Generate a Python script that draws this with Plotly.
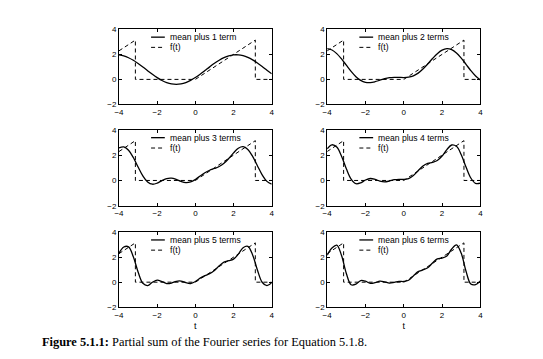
import plotly.graph_objects as go

# ---- data ----
t = [-4.0, -3.75, -3.5, -3.25, -3.0, -2.75, -2.5, -2.25, -2.0, -1.75, -1.5, -1.25, -1.0,
     -0.75, -0.5, -0.25, 0.0, 0.25, 0.5, 0.75, 1.0, 1.25, 1.5, 1.75, 2.0, 2.25, 2.5,
     2.75, 3.0, 3.25, 3.5, 3.75, 4.0]

sum1 = [1.958, 1.879, 1.732, 1.526, 1.275, 0.992, 0.697, 0.407, 0.141, -0.085, -0.257,
        -0.364, -0.400, -0.362, -0.253, -0.079, 0.149, 0.416, 0.706, 1.001, 1.283, 1.534,
        1.738, 1.883, 1.960, 1.963, 1.894, 1.756, 1.557, 1.310, 1.031, 0.736, 0.445]
sum2 = [2.453, 2.348, 2.061, 1.634, 1.135, 0.639, 0.217, -0.082, -0.237, -0.261, -0.187,
        -0.065, 0.055, 0.137, 0.168, 0.161, 0.149, 0.176, 0.285, 0.502, 0.828, 1.234,
        1.667, 2.058, 2.338, 2.452, 2.373, 2.108, 1.696, 1.202, 0.702, 0.267, -0.050]
sum3 = [2.572, 2.653, 2.388, 1.808, 1.062, 0.359, -0.120, -0.295, -0.212, -0.011, 0.154,
        0.184, 0.078, -0.078, -0.169, -0.118, 0.078, 0.352, 0.613, 0.806, 0.945, 1.102,
        1.356, 1.736, 2.177, 2.539, 2.662, 2.443, 1.898, 1.163, 0.443, -0.073, -0.289]
sum4 = [2.500, 2.816, 2.635, 1.913, 0.928, 0.109, -0.256, -0.192, 0.035, 0.154, 0.084,
        -0.056, -0.112, -0.043, 0.058, 0.092, 0.078, 0.141, 0.386, 0.771, 1.134, 1.342,
        1.426, 1.571, 1.930, 2.436, 2.798, 2.693, 2.033, 1.058, 0.195, -0.236, -0.217]
sum5 = [2.307, 2.811, 2.825, 2.038, 0.817, -0.086, -0.268, -0.005, 0.165, 0.049, -0.112,
        -0.075, 0.073, 0.092, -0.041, -0.106, 0.053, 0.323, 0.526, 0.678, 0.935, 1.310,
        1.605, 1.716, 1.842, 2.236, 2.759, 2.869, 2.182, 0.977, -0.006, -0.281, -0.044]
sum6 = [2.156, 2.729, 2.964, 2.138, 0.692, -0.204, -0.160, 0.130, 0.076, -0.098, -0.043,
        0.081, 0.026, -0.071, -0.018, 0.061, 0.053, 0.157, 0.502, 0.840, 0.982, 1.153,
        1.536, 1.863, 1.932, 2.102, 2.651, 2.987, 2.307, 0.876, -0.145, -0.200, 0.107]

f_t = [-4.0, -3.1416, -3.1416, 0.0, 3.1416, 3.1416, 4.0]
f_vals = [2.2832, 3.1416, 0.0, 0.0, 3.1416, 0.0, 0.0]

legend_labels = ["mean plus 1 term", "mean plus 2 terms", "mean plus 3 terms",
                 "mean plus 4 terms", "mean plus 5 terms", "mean plus 6 terms"]
f_label = "f(t)"
x_ticks = [-4, -2, 0, 2, 4]
y_ticks = [-2, 0, 2, 4]
x_label = "t"
caption_bold = "Figure 5.1.1:"
caption_text = "Partial sum of the Fourier series for Equation 5.1.8."

sums = [sum1, sum2, sum3, sum4, sum5, sum6]

# ---- layout geometry (pixels in a 543x359 page) ----
W, H = 543, 359
col_px = [(115.7, 270.7), (327.0, 482.5)]
row_px = [(26.0, 103.0), (129.0, 207.0), (234.0, 311.0)]
SANS = "Liberation Sans, Arial, sans-serif"

fig = go.Figure()
layout = dict(
    width=W, height=H, margin=dict(l=0, r=0, t=0, b=0),
    paper_bgcolor="white", plot_bgcolor="white", showlegend=False,
    font=dict(family=SANS, size=8, color="black"),
)
shapes = []
annotations = []

for i, s in enumerate(sums):
    r, c = divmod(i, 2)
    idx = i + 1
    xa = "x" if idx == 1 else f"x{idx}"
    ya = "y" if idx == 1 else f"y{idx}"
    xkey = "xaxis" if idx == 1 else f"xaxis{idx}"
    ykey = "yaxis" if idx == 1 else f"yaxis{idx}"

    fig.add_trace(go.Scatter(x=f_t, y=f_vals, mode="lines", xaxis=xa, yaxis=ya,
                             line=dict(color="black", width=1, dash="4px,3px"),
                             name=f_label, hoverinfo="skip"))
    fig.add_trace(go.Scatter(x=t, y=s, mode="lines", xaxis=xa, yaxis=ya,
                             line=dict(color="black", width=1.3, shape="spline", smoothing=1.0),
                             name=legend_labels[i]))

    x0, x1 = col_px[c]
    y0, y1 = row_px[r]
    axcommon = dict(showgrid=False, zeroline=False, showline=True, linecolor="black",
                    linewidth=1, mirror="ticks", ticks="inside", ticklen=3,
                    tickwidth=0.8, tickcolor="black",
                    tickfont=dict(size=8, family=SANS))
    xdict = dict(axcommon, domain=[x0 / W, x1 / W], range=[-4, 4], tickvals=x_ticks,
                 anchor=ya, fixedrange=True)
    if r == 2:
        xdict["title"] = dict(text=x_label, standoff=3, font=dict(size=9, family=SANS))
    ydict = dict(axcommon, domain=[1 - y1 / H, 1 - y0 / H], range=[-2, 4], tickvals=y_ticks,
                 anchor=xa, fixedrange=True)
    layout[xkey] = xdict
    layout[ykey] = ydict

    # in-plot legend (decoration only)
    for yy, lab, dash, lw in [(0.896, legend_labels[i], "solid", 1.3),
                              (0.760, f_label, "4px,3px", 1.0)]:
        shapes.append(dict(type="line", xref=f"{xa} domain", yref=f"{ya} domain",
                           x0=0.21, x1=0.30, y0=yy, y1=yy,
                           line=dict(color="black", width=lw, dash=dash)))
        annotations.append(dict(text=lab, xref=f"{xa} domain", yref=f"{ya} domain",
                                x=0.325, y=yy, xanchor="left", yanchor="middle",
                                showarrow=False, borderpad=0,
                                font=dict(size=8.6, family=SANS)))

annotations.append(dict(
    text=f"<b>{caption_bold}</b> {caption_text}", xref="paper", yref="paper",
    x=37 / W, y=1 - 347 / H, xanchor="left", yanchor="middle", showarrow=False,
    borderpad=0,
    font=dict(size=12.4, family="Liberation Serif, Times New Roman, serif", color="black")))

layout["shapes"] = shapes
layout["annotations"] = annotations
fig.update_layout(**layout)
fig.write_html("out.html", config={"displayModeBar": False},
               post_script="document.body.style.margin='0';document.body.style.overflow='hidden';")
